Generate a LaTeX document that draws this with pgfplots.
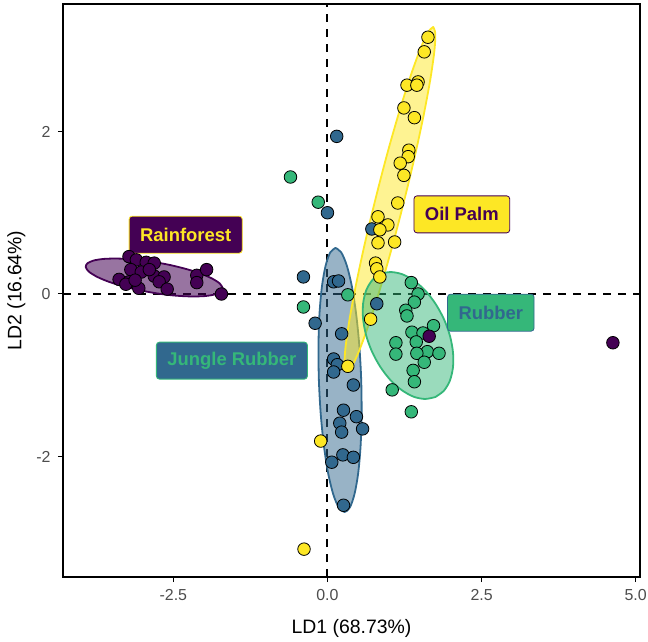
\documentclass[border=0pt]{standalone}
\usepackage{pgfplots}
\pgfplotsset{compat=1.18}
\usepackage{fontspec}
\setmainfont{Liberation Sans}
\definecolor{cPur}{HTML}{440154}
\definecolor{cBlu}{HTML}{31688E}
\definecolor{cGrn}{HTML}{35B779}
\definecolor{cYel}{HTML}{FDE725}
\definecolor{gray30}{HTML}{4D4D4D}
\begin{document}
\begin{tikzpicture}
\begin{axis}[
  width=577bp, height=573bp, scale only axis,
  xmin=-4.29, xmax=5.07, ymin=-3.483, ymax=3.569,
  xtick={-2.5,0,2.5,5}, xticklabels={-2.5,0.0,2.5,5.0},
  ytick={-2,0,2}, yticklabels={-2,0,2},
  xtick pos=lower, ytick pos=left,
  tick align=outside, major tick length=5bp,
  tick style={black, line width=1bp},
  axis line style={black, line width=1.1bp},
  ticklabel style={font=\fontsize{16}{16}\selectfont, text=gray30},
  xticklabel style={yshift=-4bp},
  yticklabel style={xshift=-4bp},
  /pgf/number format/assume math mode=true,
  xlabel={LD1 (68.73\%)}, ylabel={LD2 (16.64\%)},
  label style={font=\fontsize{19.5}{20}\selectfont},
  xlabel style={yshift=-12bp},
  ylabel style={yshift=4bp},
  every axis plot/.append style={line join=round},
]
\coordinate (SW) at (rel axis cs:0,0);
\coordinate (NE) at (rel axis cs:1,1);
% reference lines
\addplot[black, line width=2bp, dash pattern=on 8bp off 7bp] coordinates {(0,-3.483) (0,3.569)};
\addplot[black, line width=2bp, dash pattern=on 8bp off 7bp] coordinates {(-4.29,0) (5.07,0)};
% ellipses
% Jungle Rubber
\addplot[draw=cBlu, line width=1.8bp, fill=cBlu, fill opacity=0.5, smooth] coordinates {
(0.131,0.567) (0.222,0.514) (0.312,0.354) (0.395,0.097) (0.464,-0.238) (0.516,-0.628)
(0.547,-1.049) (0.554,-1.470) (0.538,-1.863) (0.499,-2.201) (0.439,-2.461) (0.364,-2.626)
(0.278,-2.683) (0.186,-2.630) (0.096,-2.470) (0.013,-2.213) (-0.056,-1.878) (-0.108,-1.488)
(-0.139,-1.067) (-0.146,-0.646) (-0.130,-0.253) (-0.091,0.085) (-0.031,0.345) (0.044,0.510) (0.131,0.567)} -- cycle;
% Oil Palm
\addplot[draw=cYel, line width=1.8bp, fill=cYel, fill opacity=0.5, smooth] coordinates {
(1.716,3.286) (1.750,3.203) (1.733,2.981) (1.667,2.634) (1.557,2.188) (1.410,1.672)
(1.235,1.121) (1.046,0.572) (0.854,0.065) (0.673,-0.368) (0.515,-0.697) (0.391,-0.899)
(0.310,-0.960) (0.276,-0.877) (0.293,-0.655) (0.359,-0.308) (0.469,0.138) (0.616,0.654)
(0.791,1.205) (0.980,1.754) (1.172,2.261) (1.353,2.694) (1.511,3.023) (1.635,3.225) (1.716,3.286)} -- cycle;
% Rainforest
\addplot[draw=cPur, line width=1.8bp, fill=cPur, fill opacity=0.55, smooth] coordinates {
(-1.699,0.074) (-1.747,0.129) (-1.868,0.189) (-2.053,0.250) (-2.289,0.307) (-2.561,0.358)
(-2.850,0.398) (-3.136,0.425) (-3.400,0.436) (-3.624,0.432) (-3.792,0.412) (-3.893,0.378)
(-3.921,0.332) (-3.873,0.277) (-3.752,0.217) (-3.567,0.156) (-3.331,0.099) (-3.059,0.048)
(-2.770,0.008) (-2.484,-0.019) (-2.220,-0.030) (-1.996,-0.026) (-1.828,-0.006) (-1.727,0.028) (-1.699,0.074)} -- cycle;
% Rubber
\addplot[draw=cGrn, line width=1.8bp, fill=cGrn, fill opacity=0.5, smooth] coordinates {
(1.750,-1.268) (1.887,-1.192) (1.984,-1.070) (2.035,-0.909) (2.037,-0.722) (1.989,-0.520)
(1.894,-0.317) (1.759,-0.128) (1.594,0.036) (1.409,0.161) (1.217,0.242) (1.031,0.270)
(0.864,0.246) (0.727,0.170) (0.630,0.048) (0.579,-0.113) (0.577,-0.300) (0.625,-0.502)
(0.720,-0.705) (0.855,-0.894) (1.020,-1.058) (1.205,-1.183) (1.397,-1.264) (1.583,-1.292) (1.750,-1.268)} -- cycle;
% points
\pgfplotsset{pts/.style={only marks, mark=*, mark size=6.3pt, mark options={draw=black, line width=0.8bp, fill=#1}}}
% Rubber
\addplot[pts=cGrn] coordinates {
(-0.60,1.44) (-0.15,1.13) (1.36,0.14) (0.33,-0.01) (-0.39,-0.16) (1.47,0.00) (1.41,-0.10)
(1.27,-0.20) (1.29,-0.27) (1.72,-0.39) (1.37,-0.47) (1.55,-0.48) (1.11,-0.60) (1.11,-0.74)
(1.44,-0.59) (1.62,-0.71) (1.81,-0.73) (1.45,-0.73) (1.57,-0.84) (1.39,-0.94) (1.41,-1.08)
(1.05,-1.18) (1.36,-1.45)};
% Jungle Rubber
\addplot[pts=cBlu] coordinates {
(0.15,1.94) (0.00,1.00) (0.72,0.80) (-0.39,0.21) (0.10,0.15) (0.18,0.16) (0.80,-0.12)
(-0.20,-0.36) (0.23,-0.49) (0.10,-0.80) (0.16,-0.87) (0.10,-0.96) (0.42,-1.12) (0.26,-1.43)
(0.47,-1.51) (0.20,-1.59) (0.57,-1.66) (0.23,-1.70) (0.07,-2.07) (0.25,-1.98) (0.42,-2.01)
(0.26,-2.60)};
% Oil Palm
\addplot[pts=cYel] coordinates {
(1.63,3.16) (1.57,2.98) (1.29,2.57) (1.47,2.61) (1.45,2.57) (1.24,2.29) (1.41,2.17)
(1.32,1.77) (1.31,1.69) (1.18,1.61) (1.24,1.46) (1.14,1.12) (0.82,0.95) (0.98,0.85)
(0.85,0.79) (0.82,0.63) (1.09,0.64) (0.78,0.38) (0.80,0.31) (0.85,0.21) (0.70,-0.31)
(0.33,-0.89) (-0.11,-1.81) (-0.38,-3.14)};
% Rainforest
\addplot[pts=cPur] coordinates {
(-3.22,0.46) (-3.10,0.42) (-2.94,0.39) (-2.81,0.38) (-3.19,0.30) (-3.02,0.27) (-3.38,0.18)
(-3.22,0.15) (-3.27,0.12) (-3.06,0.07) (-2.81,0.22) (-2.65,0.21) (-2.73,0.15) (-2.60,0.06)
(-2.12,0.23) (-1.96,0.30) (-2.12,0.14) (-1.72,0.00) (-3.12,0.17) (-2.89,0.30)
(1.65,-0.52) (4.63,-0.60)};
% labels
\tikzset{lab/.style={rounded corners=3bp, line width=0.8bp, font=\bfseries\fontsize{18.5}{19}\selectfont, inner xsep=11bp, minimum height=37bp}}
\node[lab, fill=cPur, draw=cYel, text=cYel] at (axis cs:-2.30,0.73) {Rainforest};
\node[lab, fill=cYel, draw=cPur, text=cPur] at (axis cs:2.18,0.98) {Oil Palm};
\node[lab, fill=cGrn, draw=cBlu, text=cBlu] at (axis cs:2.65,-0.23) {Rubber};
\node[lab, fill=cBlu, draw=cGrn, text=cGrn] at (axis cs:-1.55,-0.82) {Jungle Rubber};
\end{axis}
\pgfresetboundingbox
\path[use as bounding box] ([shift={(-63bp,-64bp)}]SW) rectangle ([shift={(8bp,4bp)}]NE);
\end{tikzpicture}
\end{document}
